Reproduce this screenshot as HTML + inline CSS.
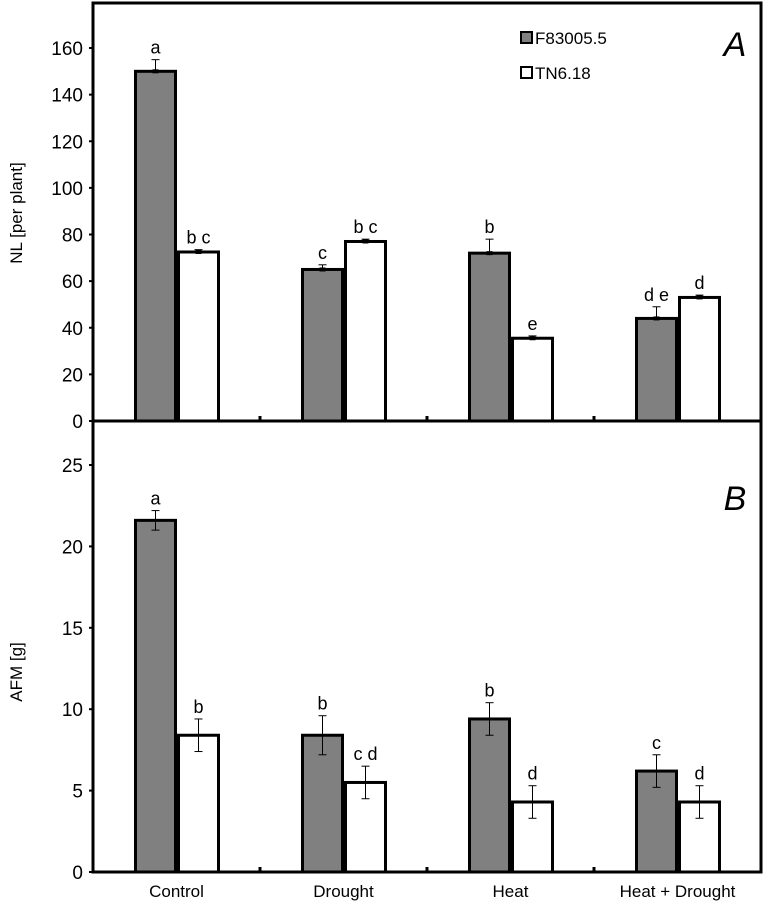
<!DOCTYPE html>
<html><head><meta charset="utf-8"><style>body{margin:0;background:#fff}svg{display:block;font-family:"Liberation Sans",sans-serif}</style></head>
<body>
<svg id="c" width="764" height="913"></svg>
<script>
const categories=["Control","Drought","Heat","Heat + Drought"];
const nlF=[150,65,72,44];const nlFerr=[5,2,6,5];
const nlT=[72.5,77,35.5,53];const nlTerr=[1,1,1,1];
const nlFlab=["a","c","b","d e"];const nlTlab=["b c","b c","e","d"];
const afmF=[21.6,8.4,9.4,6.2];const afmFerr=[0.6,1.2,1,1];
const afmT=[8.4,5.5,4.3,4.3];const afmTerr=[1,1,1,1];
const afmFlab=["a","b","b","c"];const afmTlab=["b","c d","d","d"];
const nlTicks=[0,20,40,60,80,100,120,140,160];
const afmTicks=[0,5,10,15,20,25];
const svg=document.getElementById('c');const NS='http://www.w3.org/2000/svg';
function el(t,a,txt){const e=document.createElementNS(NS,t);for(const k in a)e.setAttribute(k,a[k]);if(txt!=null)e.textContent=txt;svg.appendChild(e);return e;}
const L=93,R=761;const band=(R-L)/categories.length;
const xc=i=>L+band*(i+0.5);
const yA=v=>421-v*(421-48)/160;
const yB=v=>872-v*(872-465)/25;
function panel(y,fv,fe,tv,te,fl,tl,ticks,bottom,name,twoSided){
  ticks.forEach(t=>{const yy=y(t);
    const tk=el('line',{x1:L-4,x2:L,y1:yy,y2:yy,stroke:'#000','stroke-width':2});
    
    const lb=el('text',{x:L-10,y:yy+7,'text-anchor':'end','font-size':19},t);
    });
  categories.forEach((c,i)=>{
    [[fv,fe,fl,'#808080',-41],[tv,te,tl,'#fff',2]].forEach(([v,e,l,col,off],s)=>{
      const x0=xc(i)+off,w=40,top=y(v[i]);
      const b=el('rect',{x:x0,y:top,width:w,height:bottom-top,fill:col,stroke:'#000','stroke-width':3});
      
      const cx=x0+w/2,ey=y(v[i]+e[i]),ey2=twoSided?y(v[i]-e[i]):top;
      const eb=el('line',{x1:cx,x2:cx,y1:ey,y2:ey2,stroke:'#000','stroke-width':1});
      
      el('line',{x1:cx-4,x2:cx+4,y1:ey,y2:ey,stroke:'#000','stroke-width':1});
      if(twoSided)el('line',{x1:cx-4,x2:cx+4,y1:ey2,y2:ey2,stroke:'#000','stroke-width':1});
      else el('rect',{x:cx-3,y:top-2,width:6,height:4,fill:'#000'});
      const t=el('text',{x:cx,y:ey-6,'text-anchor':'middle','font-size':18},l[i]);
      
    });
    if(i<categories.length-1){el('line',{x1:L+band*(i+1),x2:L+band*(i+1),y1:bottom,y2:bottom-5,stroke:'#000','stroke-width':3});}
  });
}
panel(yA,nlF,nlFerr,nlT,nlTerr,nlFlab,nlTlab,nlTicks,421,'panel-a',false);
panel(yB,afmF,afmFerr,afmT,afmTerr,afmFlab,afmTlab,afmTicks,872,'panel-b',true);
const fA=el('path',{d:`M${L},421 L${L},3 L${R},3 L${R},421`,fill:'none',stroke:'#000','stroke-width':3});

el('line',{x1:L,x2:R+1,y1:421,y2:421,stroke:'#000','stroke-width':3});
const fB=el('path',{d:`M${L},421 L${L},872 L${R},872 L${R},421`,fill:'none',stroke:'#000','stroke-width':3});

categories.forEach((c,i)=>{const t=el('text',{x:xc(i),y:897,'text-anchor':'middle','font-size':17},c);
  });
const ya=el('text',{x:22,y:213,'text-anchor':'middle','font-size':17,transform:'rotate(-90 22 213)'},'NL [per plant]');

const yb=el('text',{x:22,y:672,'text-anchor':'middle','font-size':17,transform:'rotate(-90 22 672)'},'AFM [g]');

const pa=el('text',{x:735,y:56,'text-anchor':'middle','font-size':34,'font-style':'italic'},'A');

const pb=el('text',{x:735,y:510,'text-anchor':'middle','font-size':34,'font-style':'italic'},'B');

const s1=el('rect',{x:521,y:32,width:11,height:11,fill:'#808080',stroke:'#000','stroke-width':2});

const l1=el('text',{x:535,y:44,'font-size':17},'F83005.5');

const s2=el('rect',{x:521,y:67,width:11,height:11,fill:'#fff',stroke:'#000','stroke-width':2});

const l2=el('text',{x:535,y:79,'font-size':17},'TN6.18');

</script>
</body></html>
